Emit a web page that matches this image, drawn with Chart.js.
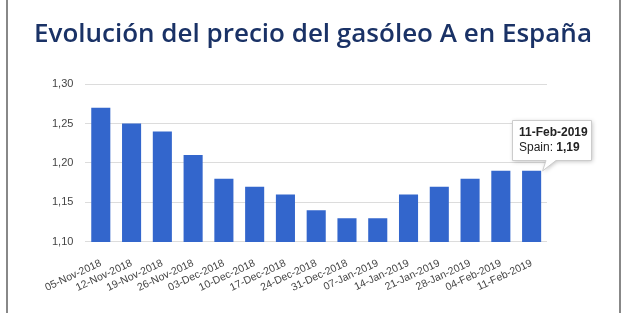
<!DOCTYPE html>
<html>
<head>
<meta charset="utf-8">
<script src="https://cdn.jsdelivr.net/npm/chart.js@4/dist/chart.umd.min.js"></script>
<style>
  html, body { margin: 0; padding: 0; background: #fff; }
  #wrap { position: relative; width: 626px; height: 313px; }
  #frame { position: absolute; left: 6px; top: 0; width: 611px; height: 313px;
           border-left: 2px solid #888; border-right: 2px solid #888; pointer-events: none; }
  #titulo { position: absolute; left: 0; top: 14px; width: 626px; text-align: center;
            font-family: 'Open Sans', sans-serif; font-size: 26px; font-weight: 600;
            color: #1a3266; white-space: nowrap; }
</style>
</head>
<body>
<div id="wrap">
  <canvas id="chart" width="626" height="313"></canvas>
  <div id="titulo">Evolución del precio del gasóleo A en España</div>
  <div id="frame"></div>
</div>
<script>
const semanas = ["05-Nov-2018", "12-Nov-2018", "19-Nov-2018", "26-Nov-2018", "03-Dec-2018",
  "10-Dec-2018", "17-Dec-2018", "24-Dec-2018", "31-Dec-2018", "07-Jan-2019",
  "14-Jan-2019", "21-Jan-2019", "28-Jan-2019", "04-Feb-2019", "11-Feb-2019"];
const precios = [1.27, 1.25, 1.24, 1.21, 1.18, 1.17, 1.16, 1.14, 1.13, 1.13, 1.16, 1.17, 1.18, 1.19, 1.19];
const yTicks = [1.10, 1.15, 1.20, 1.25, 1.30];

const fmt = v => v.toFixed(2).replace(".", ",");

// tooltip fijo sobre la última barra
const tooltipFijo = {
  id: "tooltipFijo",
  afterDraw(chart) {
    const meta = chart.getDatasetMeta(0);
    const i = precios.length - 1;
    const bar = meta.data[i];
    const ctx = chart.ctx;
    const w = 79, h = 40;
    const bx = Math.round(bar.x - 20), by = Math.round(bar.y - 11 - h);
    ctx.save();
    ctx.shadowColor = "rgba(0,0,0,0.25)";
    ctx.shadowBlur = 4;
    ctx.shadowOffsetX = 1;
    ctx.shadowOffsetY = 1;
    ctx.fillStyle = "#fff";
    ctx.strokeStyle = "#ccc";
    ctx.lineWidth = 1;
    ctx.beginPath();
    ctx.moveTo(bx + 0.5, by + 0.5);
    ctx.lineTo(bx + w + 0.5, by + 0.5);
    ctx.lineTo(bx + w + 0.5, by + h + 0.5);
    ctx.lineTo(bx + 44, by + h + 0.5);
    ctx.lineTo(bar.x + 11, bar.y);
    ctx.lineTo(bx + 34, by + h + 0.5);
    ctx.lineTo(bx + 0.5, by + h + 0.5);
    ctx.closePath();
    ctx.fill();
    ctx.shadowColor = "transparent";
    ctx.stroke();
    ctx.fillStyle = "#222";
    ctx.textBaseline = "alphabetic";
    ctx.font = "bold 12px 'Liberation Sans', Arial, sans-serif";
    ctx.fillText(semanas[i], bx + 7, by + 16);
    ctx.font = "12px 'Liberation Sans', Arial, sans-serif";
    const pre = "Spain: ";
    ctx.fillText(pre, bx + 7, by + 31);
    const pw = ctx.measureText(pre).width;
    ctx.font = "bold 12px 'Liberation Sans', Arial, sans-serif";
    ctx.fillText(fmt(precios[i]), bx + 7 + pw, by + 31);
    ctx.restore();
  }
};

new Chart(document.getElementById("chart"), {
  type: "bar",
  data: {
    labels: semanas,
    datasets: [{
      label: "Spain",
      data: precios,
      backgroundColor: "#3366cc",
      categoryPercentage: 1,
      barPercentage: 0.62
    }]
  },
  options: {
    responsive: false,
    animation: false,
    layout: { padding: { left: 40, right: 79, top: 84, bottom: 12 } },
    plugins: {
      legend: { display: false },
      tooltip: { enabled: false },
      title: { display: false }
    },
    scales: {
      x: {
        grid: { display: false },
        border: { display: false },
        ticks: {
          color: "#444",
          font: { family: "'Liberation Sans', Arial, sans-serif", size: 10.5 },
          minRotation: 25,
          maxRotation: 25,
          autoSkip: false,
          padding: 7
        }
      },
      y: {
        min: 1.10,
        max: 1.30,
        afterBuildTicks: axis => { axis.ticks = yTicks.map(v => ({ value: v })); },
        grid: { color: "#dcdcdc", drawTicks: false },
        border: { display: false },
        ticks: {
          color: "#444",
          font: { family: "'Liberation Sans', Arial, sans-serif", size: 11 },
          padding: 12,
          callback: v => fmt(v)
        }
      }
    }
  },
  plugins: [tooltipFijo]
});
</script>
</body>
</html>
